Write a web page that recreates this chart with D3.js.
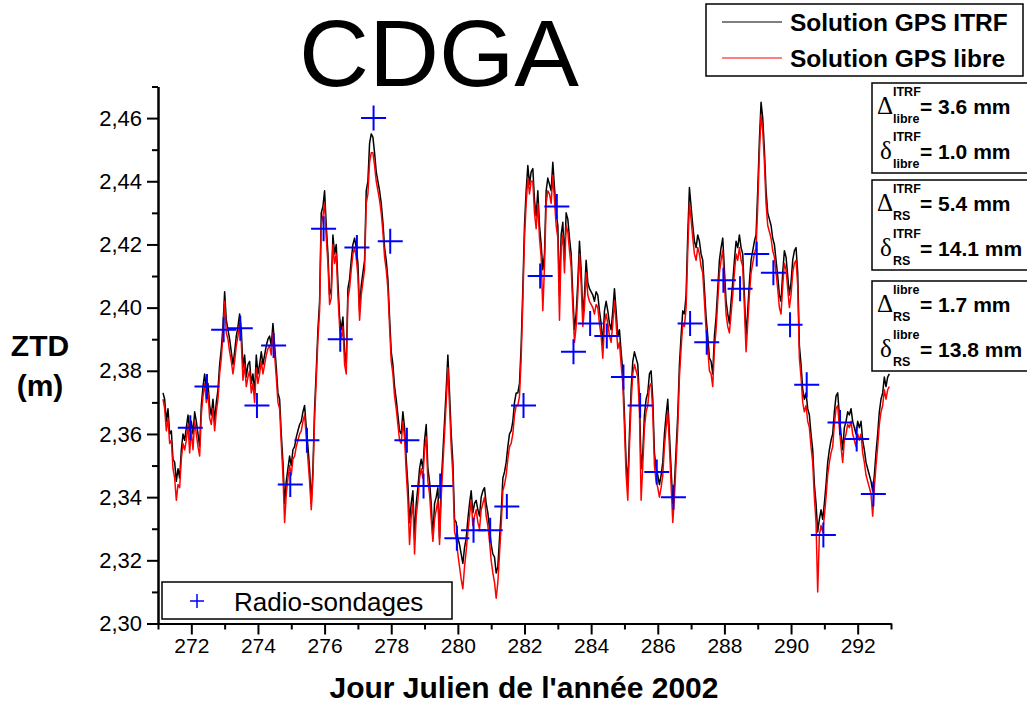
<!DOCTYPE html>
<html>
<head>
<meta charset="utf-8">
<script src="https://cdn.jsdelivr.net/npm/d3@7"></script>
<style>
  html, body { margin: 0; padding: 0; background: #fff; }
  svg { display: block; font-family: "Liberation Sans", Arial, Helvetica, sans-serif; }
</style>
</head>
<body>
<svg id="chart" width="1027" height="705"></svg>
<script>
// GPS zenith total delay at CDGA, sampled every 0.05 day starting at day 271.15
const sampleStart = 271.15;
const sampleStep = 0.05;

// Solution GPS ITRF (m)
const ztdItrf = [
  2.373,2.371,2.364,2.368,2.360,2.361,2.352,2.351,2.345,2.349,
  2.346,2.355,2.360,2.358,2.362,2.366,2.361,2.364,2.360,2.367,
  2.364,2.360,2.356,2.369,2.375,2.379,2.374,2.376,2.369,2.366,
  2.371,2.364,2.370,2.374,2.382,2.387,2.394,2.405,2.396,2.393,
  2.390,2.386,2.382,2.386,2.391,2.394,2.398,2.393,2.381,2.385,
  2.378,2.382,2.383,2.376,2.379,2.373,2.385,2.379,2.382,2.386,
  2.382,2.385,2.388,2.390,2.391,2.388,2.395,2.388,2.381,2.373,
  2.371,2.360,2.351,2.338,2.345,2.349,2.353,2.350,2.355,2.356,
  2.359,2.361,2.363,2.364,2.367,2.369,2.362,2.356,2.349,2.338,
  2.349,2.368,2.380,2.393,2.402,2.430,2.432,2.437,2.426,2.417,
  2.404,2.406,2.423,2.417,2.420,2.408,2.397,2.393,2.397,2.386,
  2.382,2.406,2.409,2.415,2.420,2.422,2.419,2.414,2.399,2.407,
  2.411,2.415,2.437,2.440,2.452,2.455,2.454,2.449,2.443,2.440,
  2.437,2.433,2.427,2.419,2.415,2.409,2.397,2.386,2.382,2.375,
  2.371,2.366,2.361,2.360,2.367,2.362,
  2.352,2.344,2.332,2.338,2.342,2.327,2.338,2.343,2.349,2.352,
  2.349,2.358,2.363,2.349,2.345,2.338,2.327,2.338,2.340,2.343,
  2.327,2.344,2.354,2.364,2.374,2.385,2.373,2.360,2.351,2.333,
  2.332,2.327,2.325,2.322,2.319,2.324,2.327,2.333,2.338,2.342,
  2.335,2.338,2.339,2.336,2.334,2.340,2.342,2.343,2.338,2.335,
  2.330,2.325,2.322,2.321,2.316,2.318,2.327,2.335,2.346,2.348,
  2.351,2.356,2.360,2.361,2.364,2.370,2.373,2.373,2.376,2.388,
  2.406,2.426,2.437,2.445,2.439,2.443,2.444,2.434,2.429,2.437,
  2.426,2.420,2.412,2.417,2.437,2.441,2.439,2.437,2.446,2.438,
  2.430,2.426,2.404,2.423,2.427,2.415,2.430,2.428,2.422,2.417,
  2.404,2.393,2.398,2.408,2.421,2.412,2.398,2.404,2.415,2.408,
  2.406,2.405,2.404,2.402,2.405,2.404,2.399,2.395,2.388,2.399,
  2.402,2.399,2.395,2.393,2.399,2.406,2.399,2.391,2.393,2.386,
  2.380,2.366,2.351,2.344,2.360,2.374,2.383,2.386,2.384,2.382,
  2.371,2.349,2.354,2.366,2.371,2.373,2.379,
  2.380,2.371,2.354,2.349,2.347,2.344,2.347,2.351,2.360,2.366,
  2.371,2.360,2.349,2.338,2.344,2.355,2.366,2.382,2.391,2.399,
  2.398,2.404,2.423,2.438,2.432,2.426,2.421,2.419,2.423,2.421,
  2.417,2.415,2.406,2.397,2.391,2.384,2.383,2.379,2.391,2.397,
  2.406,2.415,2.419,2.422,2.412,2.402,2.398,2.395,2.402,2.408,
  2.415,2.421,2.419,2.423,2.419,2.417,2.404,2.391,2.399,2.408,
  2.415,2.418,2.421,2.423,2.437,2.453,2.465,2.460,2.450,2.437,
  2.430,2.428,2.426,2.422,2.420,2.415,2.410,2.404,2.402,2.411,
  2.418,2.416,2.410,2.404,2.408,2.415,2.418,2.419,2.411,2.388,
  2.382,2.374,2.371,2.373,2.368,2.366,2.360,2.355,2.344,2.338,
  2.329,2.333,2.336,2.333,2.338,2.344,2.351,2.355,2.358,2.360,
  2.367,2.372,2.373,2.366,2.360,2.355,2.362,2.364,2.367,2.366,
  2.368,2.364,2.362,2.360,2.364,2.362,2.364,2.358,2.355,2.351,
  2.349,2.347,2.345,2.342,2.347,2.354,2.360,2.367,2.371,2.373,
  2.378,2.375,2.378,2.379
];

// Solution GPS libre (m)
const ztdLibre = [
  2.371,2.368,2.361,2.365,2.357,2.358,2.349,2.346,2.339,2.344,
  2.343,2.352,2.357,2.355,2.358,2.363,2.354,2.361,2.355,2.364,
  2.360,2.356,2.353,2.366,2.372,2.376,2.370,2.373,2.365,2.363,
  2.368,2.361,2.367,2.371,2.379,2.384,2.391,2.402,2.392,2.390,
  2.386,2.383,2.379,2.383,2.388,2.391,2.395,2.389,2.377,2.382,
  2.375,2.378,2.380,2.373,2.376,2.370,2.381,2.376,2.379,2.383,
  2.379,2.382,2.385,2.387,2.388,2.385,2.392,2.385,2.378,2.370,
  2.368,2.357,2.347,2.332,2.341,2.346,2.350,2.347,2.352,2.353,
  2.356,2.358,2.360,2.361,2.364,2.366,2.359,2.352,2.345,2.336,
  2.346,2.365,2.377,2.390,2.399,2.426,2.429,2.433,2.422,2.414,
  2.401,2.403,2.420,2.414,2.417,2.404,2.394,2.390,2.394,2.382,
  2.379,2.403,2.406,2.412,2.417,2.419,2.416,2.410,2.396,2.404,
  2.408,2.412,2.433,2.436,2.446,2.449,2.449,2.445,2.440,2.437,
  2.434,2.430,2.424,2.416,2.412,2.406,2.394,2.383,2.379,2.372,
  2.368,2.363,2.358,2.357,2.364,2.359,
  2.348,2.339,2.325,2.334,2.338,2.322,2.334,2.339,2.346,2.349,
  2.346,2.355,2.359,2.345,2.341,2.333,2.326,2.333,2.336,2.339,
  2.325,2.340,2.350,2.360,2.370,2.381,2.369,2.356,2.347,2.329,
  2.327,2.322,2.318,2.314,2.311,2.318,2.323,2.329,2.334,2.339,
  2.331,2.334,2.336,2.332,2.330,2.336,2.338,2.340,2.334,2.331,
  2.326,2.320,2.316,2.313,2.308,2.313,2.322,2.331,2.342,2.344,
  2.347,2.352,2.356,2.357,2.360,2.366,2.369,2.369,2.372,2.384,
  2.402,2.422,2.433,2.441,2.436,2.440,2.440,2.430,2.425,2.433,
  2.422,2.416,2.399,2.413,2.433,2.437,2.436,2.433,2.442,2.434,
  2.426,2.422,2.396,2.419,2.423,2.411,2.426,2.424,2.418,2.413,
  2.400,2.389,2.394,2.404,2.417,2.408,2.394,2.400,2.411,2.404,
  2.402,2.401,2.400,2.398,2.401,2.400,2.395,2.391,2.384,2.395,
  2.398,2.395,2.391,2.389,2.395,2.402,2.395,2.387,2.389,2.382,
  2.376,2.362,2.347,2.339,2.356,2.370,2.379,2.382,2.380,2.378,
  2.367,2.339,2.350,2.362,2.367,2.369,2.375,
  2.376,2.367,2.350,2.345,2.343,2.340,2.343,2.347,2.356,2.362,
  2.367,2.356,2.344,2.332,2.340,2.351,2.362,2.378,2.387,2.395,
  2.394,2.400,2.418,2.433,2.428,2.422,2.417,2.415,2.419,2.417,
  2.413,2.411,2.402,2.393,2.387,2.380,2.379,2.375,2.387,2.393,
  2.402,2.411,2.415,2.418,2.408,2.398,2.394,2.392,2.398,2.404,
  2.411,2.417,2.415,2.419,2.415,2.413,2.400,2.386,2.395,2.404,
  2.411,2.414,2.417,2.419,2.432,2.449,2.461,2.456,2.446,2.433,
  2.426,2.424,2.422,2.418,2.416,2.411,2.406,2.400,2.398,2.407,
  2.414,2.412,2.406,2.400,2.404,2.411,2.414,2.415,2.407,2.384,
  2.378,2.370,2.367,2.369,2.364,2.362,2.356,2.351,2.340,2.332,
  2.310,2.328,2.331,2.329,2.334,2.340,2.347,2.351,2.354,2.356,
  2.363,2.368,2.369,2.362,2.356,2.351,2.358,2.360,2.363,2.362,
  2.364,2.360,2.358,2.356,2.360,2.358,2.360,2.354,2.351,2.347,
  2.345,2.343,2.341,2.334,2.343,2.350,2.356,2.363,2.367,2.369,
  2.374,2.371,2.374,2.375
];

// Radiosonde launches (day, ZTD in m)
const rsDays = [
  271.97,272.47,272.97,273.47,273.97,274.47,274.97,275.47,275.97,276.47,
  276.97,277.47,277.97,278.47,278.97,279.47,279.97,280.47,280.97,281.47,
  281.97,282.47,282.97,283.47,283.97,284.47,284.97,285.47,285.97,286.47,
  286.97,287.47,287.97,288.47,288.97,289.47,289.97,290.47,290.97,291.47,
  291.97,292.47
];
const rsZtd = [
  2.362,2.375,2.393,2.3935,2.369,2.388,2.344,2.358,2.425,2.390,
  2.419,2.460,2.421,2.358,2.3435,2.3435,2.327,2.3295,2.3295,2.337,
  2.369,2.410,2.432,2.386,2.395,2.391,2.378,2.369,2.348,2.340,
  2.395,2.389,2.4087,2.406,2.417,2.411,2.3946,2.3756,2.328,2.3636,
  2.3584,2.341
];

const xMajorTicks = [272,274,276,278,280,282,284,286,288,290,292];
const xMinorTicks = [271,273,275,277,279,281,283,285,287,289,291,293];
const yMajorTicks = [2.30,2.32,2.34,2.36,2.38,2.40,2.42,2.44,2.46];
const yMinorTicks = [2.31,2.33,2.35,2.37,2.39,2.41,2.43,2.45,2.47];

// Statistics panels: symbol, superscript, subscript, value (mm)
const statSymbols = ["\u0394","\u03B4","\u0394","\u03B4","\u0394","\u03B4"];
const statSup = ["ITRF","ITRF","ITRF","ITRF","libre","libre"];
const statSub = ["libre","libre","RS","RS","RS","RS"];
const statValues = [3.6, 1.0, 5.4, 14.1, 1.7, 13.8];

const seriesNames = ["Solution GPS ITRF", "Solution GPS libre"];
const seriesColors = ["#000000", "#ff0000"];

const svg = d3.select("#chart");

const x = d3.scaleLinear().domain([271, 293]).range([158, 891]);
const y = d3.scaleLinear().domain([2.30, 2.47]).range([623.5, 86.5]);

const days = ztdItrf.map((_, i) => sampleStart + i * sampleStep);

// Title
svg.append("text")
  .attr("x", 439).attr("y", 86)
  .attr("text-anchor", "middle")
  .attr("font-size", 94)
  .attr("textLength", 280)
  .attr("lengthAdjust", "spacingAndGlyphs")
  .text("CDGA");

// Axes
const fmt = v => d3.format(".2f")(v).replace(".", ",");

function styleAxis(g, size) {
  g.attr("font-family", null).attr("font-size", null);
  g.selectAll(".domain").attr("stroke", "#000").attr("stroke-width", 2);
  g.selectAll(".tick line").attr("stroke", "#000").attr("stroke-width", 2);
  g.selectAll(".tick text").attr("fill", "#000").attr("font-size", size);
}

svg.append("g")
  .attr("transform", "translate(158,0)")
  .call(d3.axisLeft(y).tickValues(yMinorTicks).tickSize(6).tickSizeOuter(0).tickFormat(""))
  .call(styleAxis, 22);
svg.append("g")
  .attr("transform", "translate(158,0)")
  .call(d3.axisLeft(y).tickValues(yMajorTicks).tickSize(11).tickSizeOuter(0).tickPadding(5).tickFormat(fmt))
  .call(styleAxis, 22);

svg.append("g")
  .attr("transform", "translate(0,623.5)")
  .call(d3.axisBottom(x).tickValues(xMinorTicks).tickSize(6).tickSizeOuter(0).tickFormat(""))
  .call(styleAxis, 21);
svg.append("g")
  .attr("transform", "translate(0,623.5)")
  .call(d3.axisBottom(x).tickValues(xMajorTicks).tickSize(11).tickSizeOuter(0).tickPadding(4).tickFormat(d3.format("d")))
  .call(styleAxis, 21);

// Axis titles
svg.append("text")
  .attr("x", 524).attr("y", 698)
  .attr("text-anchor", "middle")
  .attr("font-size", 30).attr("font-weight", "bold")
  .text("Jour Julien de l'ann\u00E9e 2002");

svg.append("text")
  .attr("x", 40).attr("y", 356)
  .attr("text-anchor", "middle")
  .attr("font-size", 30).attr("font-weight", "bold")
  .text("ZTD");
svg.append("text")
  .attr("x", 40).attr("y", 396)
  .attr("text-anchor", "middle")
  .attr("font-size", 30).attr("font-weight", "bold")
  .text("(m)");

// GPS series
const line = d3.line()
  .x((d, i) => x(days[i]))
  .y(d => y(d));

[ztdItrf, ztdLibre].forEach((s, k) => {
  svg.append("path")
    .datum(s)
    .attr("fill", "none")
    .attr("stroke", seriesColors[k])
    .attr("stroke-width", 1.5)
    .attr("stroke-linejoin", "round")
    .attr("d", line);
});

// Radiosonde crosses
const arm = 12.5;
svg.append("g")
  .selectAll("path")
  .data(rsDays)
  .join("path")
  .attr("fill", "none")
  .attr("stroke", "#0000ff")
  .attr("stroke-width", 2)
  .attr("d", (d, i) => {
    const cx = x(d), cy = y(rsZtd[i]);
    return `M${cx - arm},${cy}H${cx + arm}M${cx},${cy - arm}V${cy + arm}`;
  });

// Legend: GPS solutions
const leg = svg.append("g");
leg.append("rect")
  .attr("x", 706).attr("y", 4).attr("width", 317).attr("height", 72)
  .attr("fill", "#fff").attr("stroke", "#000").attr("stroke-width", 1.5);
seriesNames.forEach((name, k) => {
  const yy = [22, 58][k];
  leg.append("line")
    .attr("x1", 722).attr("x2", 782).attr("y1", yy).attr("y2", yy)
    .attr("stroke", seriesColors[k]).attr("stroke-width", 1.2);
  leg.append("text")
    .attr("x", 790).attr("y", yy + 9)
    .attr("font-size", 24.5).attr("font-weight", "bold")
    .text(name);
});

// Legend: radiosondes
const leg2 = svg.append("g");
leg2.append("rect")
  .attr("x", 162).attr("y", 582).attr("width", 290).attr("height", 37)
  .attr("fill", "#fff").attr("stroke", "#000").attr("stroke-width", 1.5);
leg2.append("path")
  .attr("d", "M190,601H204M197,594V608")
  .attr("stroke", "#0000ff").attr("stroke-width", 1.5);
leg2.append("text")
  .attr("x", 234).attr("y", 611)
  .attr("font-size", 26)
  .text("Radio-sondages");

// Statistics panels
const boxTops = [83, 180, 281];
boxTops.forEach((top, b) => {
  const g = svg.append("g");
  g.append("rect")
    .attr("x", 872).attr("y", top).attr("width", 160).attr("height", 90)
    .attr("fill", "#fff").attr("stroke", "#000").attr("stroke-width", 1.5);
  [0, 1].forEach(r => {
    const i = b * 2 + r;
    const base = top + (r === 0 ? 31 : 76);
    g.append("text")
      .attr("x", r === 0 ? 877 : 880).attr("y", base)
      .attr("font-family", "'Liberation Serif', 'Times New Roman', serif")
      .attr("font-size", 25)
      .text(statSymbols[i]);
    g.append("text")
      .attr("x", 893).attr("y", base - 18)
      .attr("font-size", 12.5).attr("font-weight", "bold")
      .text(statSup[i]);
    g.append("text")
      .attr("x", 893).attr("y", base + 9)
      .attr("font-size", 12.5).attr("font-weight", "bold")
      .text(statSub[i]);
    g.append("text")
      .attr("x", 920).attr("y", base)
      .attr("font-size", 21).attr("font-weight", "bold")
      .text("= " + statValues[i].toFixed(1) + " mm");
  });
});
</script>
</body>
</html>
